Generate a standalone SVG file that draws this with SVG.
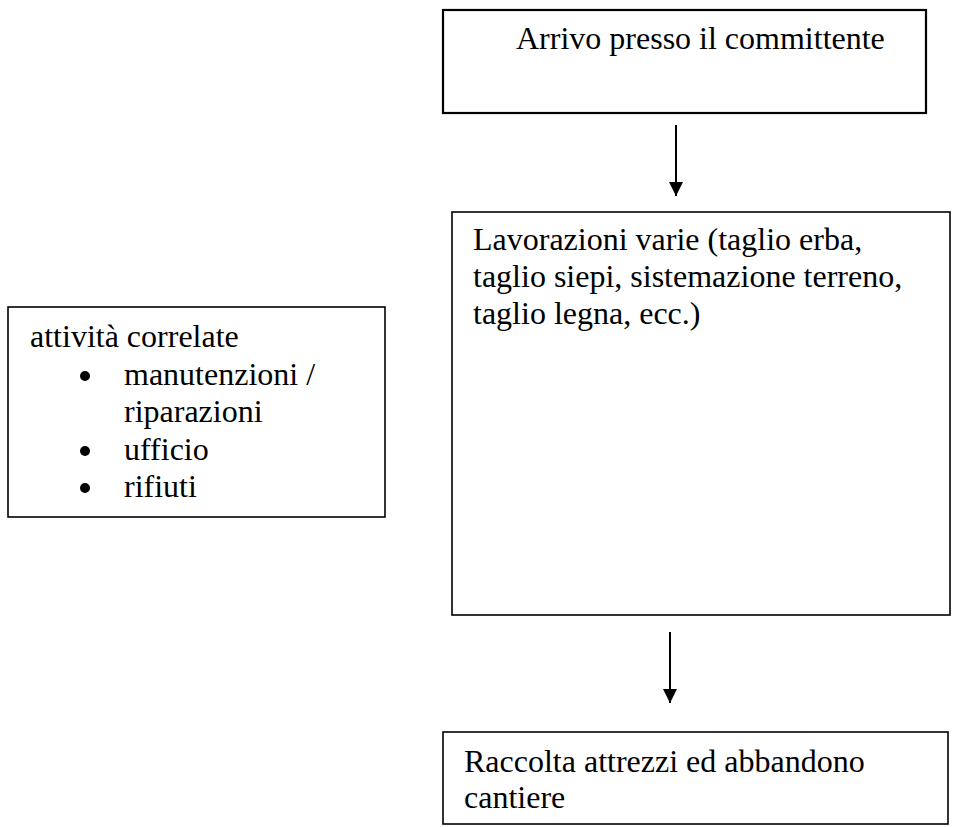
<svg xmlns="http://www.w3.org/2000/svg" width="954" height="827" viewBox="0 0 954 827">
<style>
.box{fill:#fff;stroke:#000;stroke-width:1.6}
.t{font-family:"Liberation Serif","Times New Roman",serif;font-size:32px;fill:#000}
.c{stroke:#000;stroke-width:2;fill:none}
.b{fill:#000}
</style>
<defs>
<marker id="ah" markerWidth="14" markerHeight="14" refX="14" refY="7" orient="auto" markerUnits="userSpaceOnUse" viewBox="0 0 14 14">
<path d="M0,0 L14,7 L0,14 Z" fill="#000"/>
</marker>
</defs>
<rect width="954" height="827" fill="#fff"/>
<g id="n1">
<rect class="box" x="443" y="10" width="483" height="103" style="stroke-width:2.2"/>
<text class="t" x="516" y="49">Arrivo presso il committente</text>
</g>
<g id="n2">
<rect class="box" x="452" y="212" width="498" height="403"/>
<text class="t" x="473" y="250">Lavorazioni varie (taglio erba,</text>
<text class="t" x="473" y="287">taglio siepi, sistemazione terreno,</text>
<text class="t" x="473" y="324">taglio legna, ecc.)</text>
</g>
<g id="n3">
<rect class="box" x="8" y="307" width="377" height="210"/>
<text class="t" x="30" y="347">attività correlate</text>
<circle class="b" cx="85" cy="376" r="5"/>
<text class="t" x="124" y="385">manutenzioni /</text>
<text class="t" x="124" y="422">riparazioni</text>
<circle class="b" cx="85" cy="451" r="5"/>
<text class="t" x="124" y="460">ufficio</text>
<circle class="b" cx="85" cy="488" r="5"/>
<text class="t" x="124" y="497">rifiuti</text>
</g>
<g id="n4">
<rect class="box" x="443" y="732" width="505" height="92"/>
<text class="t" x="464" y="772">Raccolta attrezzi ed abbandono</text>
<text class="t" x="464" y="808">cantiere</text>
</g>
<g id="connectors">
<line class="c" x1="676" y1="125" x2="676" y2="196" marker-end="url(#ah)"/>
<line class="c" x1="670" y1="632" x2="670" y2="703" marker-end="url(#ah)"/>
</g>
</svg>
